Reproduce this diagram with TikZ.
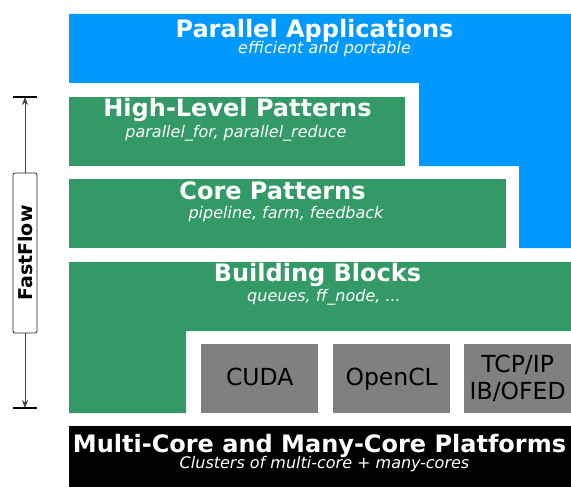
\documentclass[tikz,border=0pt]{standalone}
\usepackage{fontspec}
\setmainfont{DejaVu Sans}
\usetikzlibrary{arrows.meta, positioning}
\definecolor{appblue}{RGB}{0, 153, 255}
\definecolor{ffgreen}{RGB}{51, 153, 102}
\definecolor{hwgray}{RGB}{128, 128, 128}

\begin{document}
\begin{tikzpicture}[x=1pt, y=-1pt,
  title/.style={anchor=base, text=white, inner sep=0pt,
                font=\fontsize{24}{28}\selectfont\bfseries},
  sub/.style={anchor=base, text=white, inner sep=0pt,
              font=\fontsize{16}{19}\selectfont\itshape},
  hwbox/.style={fill=hwgray, anchor=north west, minimum height=69pt,
                inner sep=0pt, align=center, font=\fontsize{23.5}{27}\selectfont},
  oneline/.style={text height=17pt, text depth=2.6pt},
]
\useasboundingbox (0,0) rectangle (571,487);

% Applications
\fill[appblue] (69,14) -- (571,14) -- (571,248) -- (519,248) -- (519,166)
  -- (419,166) -- (419,83) -- (69,83) -- cycle;
\node[title] (app) at (314.5,37.7) {Parallel Applications};
\node[sub] (appsub) at (324.5,53.5) {efficient and portable};

% Patterns
\fill[ffgreen] (69,97) rectangle (405,166);
\node[title] (high) at (237.5,116.7) {High-Level Patterns};
\node[sub] (highsub) at (236,137) {parallel\_for, parallel\_reduce};

\fill[ffgreen] (69,179) rectangle (506,248);
\node[title] (core) at (272.5,199) {Core Patterns};
\node[sub] (coresub) at (286,218.5) {pipeline, farm, feedback};

% Building blocks
\fill[ffgreen] (69,262) -- (571,262) -- (571,331) -- (186,331) -- (186,413)
  -- (69,413) -- cycle;
\node[title] (bb) at (317.5,281.7) {Building Blocks};
\node[sub] (bbsub) at (324,301) {queues, ff\_node, ...};

\node[hwbox, oneline, minimum width=117pt] (cuda) at (201,344) {CUDA};
\node[hwbox, oneline, minimum width=117pt] (ocl) at (333,344) {OpenCL};
\node[hwbox, minimum width=107pt] (net) at (464,344) {TCP/IP\\IB/OFED};

% Platforms
\fill[black] (69,426) rectangle (571,487);
\node[title] (plat) at (319.5,452.7) {Multi-Core and Many-Core Platforms};
\node[sub] (platsub) at (324.5,468.5) {Clusters of multi-core + many-cores};

% FastFlow
\node[draw=black!85, line width=0.8pt, fill=white, rounded corners=2pt, rotate=90,
      inner sep=0pt, minimum width=160pt, minimum height=24pt,
      font=\fontsize{19}{22}\selectfont\bfseries] (ff) at (25,253) {FastFlow};
\coordinate (fftop) at (25,97);
\coordinate (ffbot) at (25,408);
\draw[line width=1.5pt] ([xshift=-12pt]fftop) -- ([xshift=12pt]fftop);
\draw[line width=1.5pt] ([xshift=-12pt]ffbot) -- ([xshift=12pt]ffbot);
\draw[-{Stealth[length=8pt, width=6pt]}, black!75, line width=0.6pt] (ff) -- (fftop);
\draw[-{Stealth[length=8pt, width=6pt]}, black!75, line width=0.6pt] (ff) -- (ffbot);
\end{tikzpicture}
\end{document}
